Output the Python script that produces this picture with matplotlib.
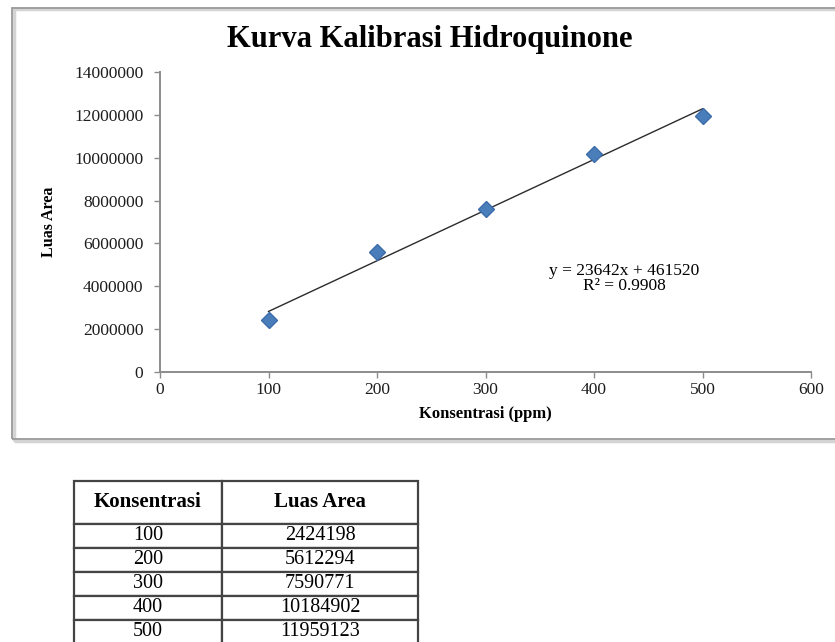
import numpy as np
import matplotlib.pyplot as plt
from matplotlib.patches import Rectangle

plt.rcParams['font.family'] = ['Liberation Serif', 'DejaVu Serif']

konsentrasi = [100, 200, 300, 400, 500]
luas_area = [2424198, 5612294, 7590771, 10184902, 11959123]
slope = 23642
intercept = 461520
r2 = 0.9908

W, H = 835, 642
fig = plt.figure(figsize=(W/100, H/100), dpi=100)

# chart frame (box with a light shadow)
fig.patches.append(Rectangle((14/W, 1-441/H), 830/W, 432/H, transform=fig.transFigure,
                             fill=False, ec='#d4d4d4', lw=2.5, zorder=0))
fig.patches.append(Rectangle((12/W, 1-439/H), 830/W, 431/H, transform=fig.transFigure,
                             fill=False, ec='#9a9a9a', lw=1.3, zorder=1))

ax = fig.add_axes([160/W, 1-372/H, (811-160)/W, (372-72)/H])
x = np.array(konsentrasi)
ax.plot(x, slope*x + intercept, color='#2b2b2b', lw=1)
ax.plot(konsentrasi, luas_area, ls='none', marker='D', ms=8.5, color='#4a7ebb', mec='#3c6cab')

ax.set_xlim(0, 600)
ax.set_ylim(0, 14000000)
ax.set_xticks(range(0, 601, 100))
ax.set_yticks(range(0, 14000001, 2000000))
ax.ticklabel_format(style='plain', useOffset=False)
for s in ['top', 'right']:
    ax.spines[s].set_visible(False)
for s in ['left', 'bottom']:
    ax.spines[s].set_color('#8c8c8c')
    ax.spines[s].set_linewidth(1.4)
ax.tick_params(length=4, width=1, color='#8c8c8c', labelsize=12.5, labelcolor='#1e1e1e')
ax.tick_params(axis='y', pad=8)
ax.tick_params(axis='x', pad=3)
ax.set_xlabel('Konsentrasi (ppm)', fontsize=12, fontweight='bold')
ax.xaxis.set_label_coords(0.5, -0.115)
ax.set_ylabel('Luas Area', fontsize=11.5, fontweight='bold')
ax.yaxis.set_label_coords(-0.158, 0.5)
fig.text(430/W, 1-40/H, 'Kurva Kalibrasi Hidroquinone', fontsize=22, fontweight='bold',
         ha='center', va='center')
ax.text(428, 4350000, 'y = %dx + %d\nR² = %.4f' % (slope, intercept, r2),
        ha='center', va='center', fontsize=12.5, linespacing=0.95)

# data table
tax = fig.add_axes([74/W, 1-644/H, (418-74)/W, 163/H])
tax.axis('off')
rows = [[str(k), str(v)] for k, v in zip(konsentrasi, luas_area)]
tb = tax.table(cellText=rows, colLabels=['Konsentrasi', 'Luas Area'],
               colWidths=[148, 196], cellLoc='center', bbox=[0, 0, 1, 1])
tb.auto_set_font_size(False)
for (r, c), cell in tb.get_celld().items():
    cell.set_edgecolor('#444444')
    cell.set_linewidth(1.6)
    cell.set_height(43 if r == 0 else 24)
    cell.get_text().set_fontsize(14.5)
    if r == 0:
        cell.get_text().set_fontsize(15)
        cell.get_text().set_fontweight('bold')

fig.savefig('out.png', dpi=100)
